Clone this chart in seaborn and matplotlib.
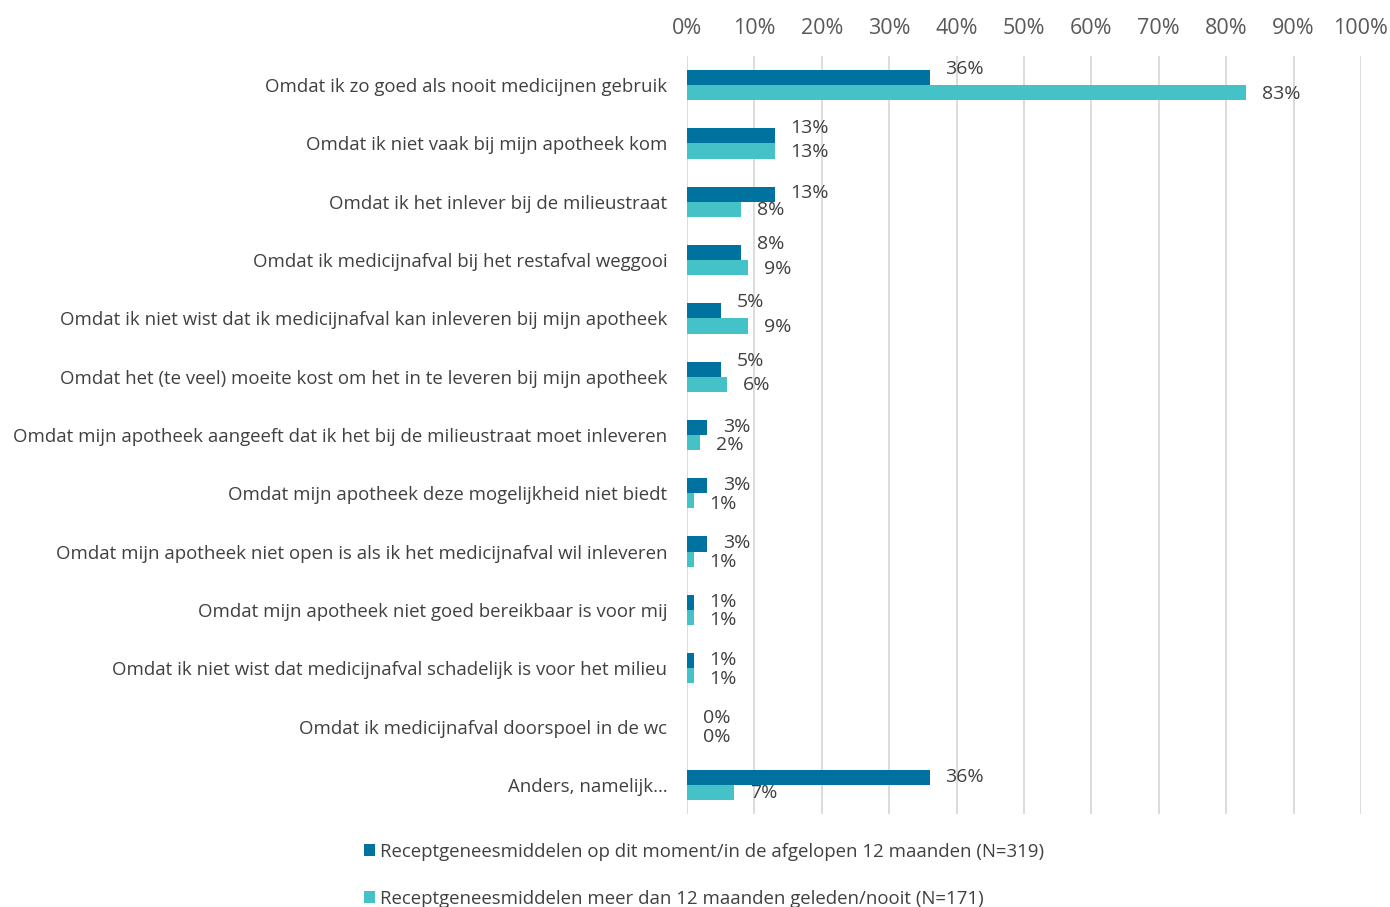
import matplotlib
matplotlib.use("Agg")
import matplotlib.pyplot as plt
import seaborn as sns
import pandas as pd
from matplotlib.patches import Patch
from matplotlib.ticker import FuncFormatter

categories = [
    "Omdat ik zo goed als nooit medicijnen gebruik",
    "Omdat ik niet vaak bij mijn apotheek kom",
    "Omdat ik het inlever bij de milieustraat",
    "Omdat ik medicijnafval bij het restafval weggooi",
    "Omdat ik niet wist dat ik medicijnafval kan inleveren bij mijn apotheek",
    "Omdat het (te veel) moeite kost om het in te leveren bij mijn apotheek",
    "Omdat mijn apotheek aangeeft dat ik het bij de milieustraat moet inleveren",
    "Omdat mijn apotheek deze mogelijkheid niet biedt",
    "Omdat mijn apotheek niet open is als ik het medicijnafval wil inleveren",
    "Omdat mijn apotheek niet goed bereikbaar is voor mij",
    "Omdat ik niet wist dat medicijnafval schadelijk is voor het milieu",
    "Omdat ik medicijnafval doorspoel in de wc",
    "Anders, namelijk…",
]
series_names = [
    "Receptgeneesmiddelen op dit moment/in de afgelopen 12 maanden (N=319)",
    "Receptgeneesmiddelen meer dan 12 maanden geleden/nooit (N=171)",
]
recent = [36, 13, 13, 8, 5, 5, 3, 3, 3, 1, 1, 0, 36]
older = [83, 13, 8, 9, 9, 6, 2, 1, 1, 1, 1, 0, 7]
xticks = list(range(0, 101, 10))

dark = "#00729f"
light = "#44c2c7"
text_col = "#404040"
tick_col = "#595959"

df = pd.DataFrame({
    "cat": categories * 2,
    "val": recent + older,
    "series": [series_names[0]] * len(categories) + [series_names[1]] * len(categories),
})

sns.set_theme(style="white")
plt.rcParams["font.family"] = ["Open Sans", "DejaVu Sans"]

fig = plt.figure(figsize=(13.9, 9.07), dpi=100)
ax = fig.add_axes([0.4942, 1 - 814 / 907, 0.4849, (814 - 56) / 907])

sns.barplot(data=df, y="cat", x="val", hue="series", hue_order=series_names,
            palette=[dark, light], width=0.52, orient="h", ax=ax,
            saturation=1, linewidth=0, errorbar=None, legend=False)

ax.set_xlim(0, 100)
ax.set_xticks(xticks)
ax.xaxis.set_major_formatter(FuncFormatter(lambda v, p: f"{v:.0f}%"))
ax.xaxis.tick_top()
ax.tick_params(axis="x", length=0, pad=12.5, labelsize=15.5, labelcolor=tick_col)
ax.tick_params(axis="y", length=0, pad=14, labelsize=13.4, labelcolor=text_col)
ax.set_xlabel("")
ax.set_ylabel("")
ax.grid(axis="x", color="#d9d9d9", linewidth=1.3)
ax.grid(axis="y", visible=False)
ax.set_axisbelow(True)
for s in ax.spines.values():
    s.set_visible(False)

vals_by_series = [recent, older]
for si, container in enumerate(ax.containers):
    for i, bar in enumerate(container):
        v = vals_by_series[si][i]
        x = bar.get_width()
        y = bar.get_y() + bar.get_height() / 2
        small = recent[i] < 5
        if si == 0:
            dy = 6 if (older[i] >= recent[i] and not small) else 0.5
        else:
            dy = -2 if small else -0.7
        ax.annotate(f"{v}%", xy=(x, y), xytext=(11.5, dy), textcoords="offset points",
                    ha="left", va="center", fontsize=14, color=text_col)

handles = [Patch(facecolor=dark, edgecolor="none"), Patch(facecolor=light, edgecolor="none")]
fig.legend(handles, series_names, loc="upper center", bbox_to_anchor=(0.5065, 1 - 826 / 907),
           ncol=1, frameon=False, handlelength=0.6, handleheight=0.6, handletextpad=0.3,
           labelspacing=1.55, fontsize=13.4, labelcolor=text_col)

fig.savefig("out.png", dpi=100)
